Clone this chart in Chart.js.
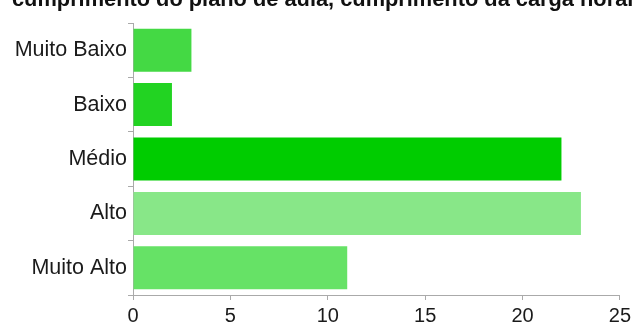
<!DOCTYPE html>
<html>
<head>
<meta charset="utf-8">
<script src="https://cdn.jsdelivr.net/npm/chart.js@4/dist/chart.umd.min.js"></script>
<style>
html,body{margin:0;padding:0;background:#fff;overflow:hidden;}
#wrap{position:relative;width:635px;height:325px;}
</style>
</head>
<body>
<div id="wrap"><canvas id="c" width="635" height="325"></canvas></div>
<script>
const categories = ["Muito Baixo", "Baixo", "Médio", "Alto", "Muito Alto"];
const values = [3, 2, 22, 23, 11];
const barColors = ["#44d944", "#22d322", "#00cc00", "#88e788", "#66e266"];
const xTicks = [0, 5, 10, 15, 20, 25];
const titleText = "cumprimento do plano de aula, cumprimento da carga horária";

// Title drawn without Chart.js' maxWidth squeezing, so it runs past the right edge like the reference.
const overflowTitle = {
  id: 'overflowTitle',
  afterDraw(chart, args, opts) {
    const ctx = chart.ctx;
    ctx.save();
    ctx.font = 'bold 21.8px "Liberation Sans"';
    ctx.fillStyle = '#111';
    ctx.textAlign = 'left';
    ctx.textBaseline = 'alphabetic';
    ctx.fillText(opts.text, 12, 6);
    ctx.restore();
  }
};

new Chart(document.getElementById('c'), {
  type: 'bar',
  data: {
    labels: categories,
    datasets: [{
      data: values,
      backgroundColor: barColors,
      borderWidth: 0,
      barPercentage: 0.79,
      categoryPercentage: 1
    }]
  },
  plugins: [overflowTitle],
  options: {
    indexAxis: 'y',
    responsive: false,
    animation: false,
    layout: { padding: { left: 12, right: 15, top: 23, bottom: 0 } },
    plugins: {
      legend: { display: false },
      tooltip: { enabled: false },
      title: { display: false },
      overflowTitle: { text: titleText }
    },
    scales: {
      x: {
        min: 0, max: 25,
        afterBuildTicks: s => { s.ticks = xTicks.map(v => ({ value: v })); },
        afterFit: s => { s.height = 30; },
        grid: { display: true, drawOnChartArea: false, tickLength: 5, color: '#aaa' },
        border: { display: true, color: '#aaa', width: 1 },
        ticks: { color: '#1a1a1a', padding: 4, font: { family: 'Liberation Sans', size: 20 } }
      },
      y: {
        afterFit: s => { s.width = 121; },
        grid: { display: true, drawOnChartArea: false, tickLength: 5, color: '#aaa' },
        border: { display: true, color: '#aaa', width: 1 },
        ticks: { color: '#1a1a1a', padding: 1, font: { family: 'Liberation Sans', size: 21.5 } }
      }
    }
  }
});
</script>
</body>
</html>
